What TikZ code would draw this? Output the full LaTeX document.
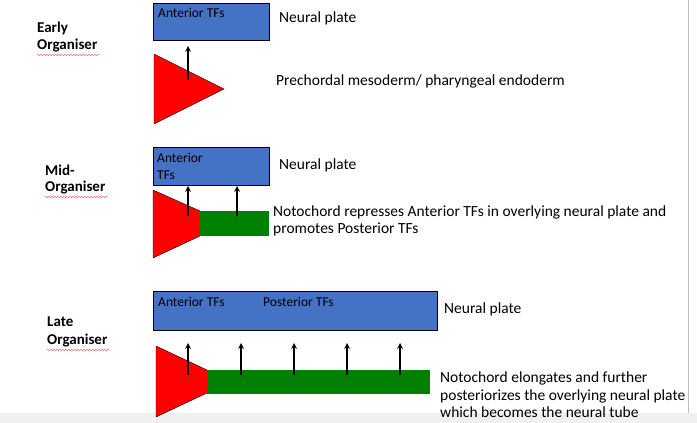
\documentclass[tikz,border=0pt]{standalone}
\usepackage{fontspec}
\setmainfont{Carlito}
\usetikzlibrary{decorations.pathmorphing}
\begin{document}
\begin{tikzpicture}[x=1pt,y=-1pt,
  lbl/.style={anchor=west,font=\fontsize{15.5}{18}\selectfont,inner sep=0pt},
  small/.style={anchor=west,font=\fontsize{13.5}{16}\selectfont,inner sep=0pt},
  stage/.style={anchor=west,font=\bfseries\fontsize{15}{18}\selectfont,inner sep=0pt,align=left},
  up/.style={->,>=stealth,line width=1.6pt},
  squiggle/.style={red!70,line width=0.4pt,decorate,decoration={snake,amplitude=0.7pt,segment length=3pt}}]
\definecolor{plateblue}{RGB}{68,114,196}
\definecolor{chordgreen}{RGB}{0,128,0}
\useasboundingbox (0,0) rectangle (697,423);
\fill[gray!12] (0,413) rectangle (697,423);
\draw[gray!50] (688,0) -- (688,413);

% Early organiser
\node[stage] (early) at (37,28) {Early};
\node[stage] (earlyb) at (37,46) {Organiser};
\draw[squiggle] (37,55) -- (100,55);
\draw[fill=plateblue] (153,3) rectangle (269,40);
\node[small] (antA) at (158,13) {Anterior TFs};
\node[lbl] (npA) at (279,18) {Neural plate};
\draw[fill=red] (154,54) -- (154,124) -- (224,89) -- cycle;
\coordinate (a1) at (188,80);
\coordinate (a2) at (188,46);
\draw[up] (a1) -- (a2);
\node[lbl] (preA) at (276,81) {Prechordal mesoderm/ pharyngeal endoderm};

% Mid organiser
\node[stage] (mid) at (45,170) {Mid-};
\node[stage] (midb) at (45,188) {Organiser};
\draw[squiggle] (45,197) -- (108,197);
\draw[fill=plateblue] (153,147) rectangle (269,185);
\node[small] (antB) at (157,158) {Anterior};
\node[small] (antC) at (157,175) {TFs};
\node[lbl] (npB) at (279,165) {Neural plate};
\fill[red] (153,190) -- (200,211) -- (200,236) -- (153,258) -- cycle;
\draw (200,211) -- (153,190) -- (153,258) -- (200,236);
\fill[chordgreen] (200,211) rectangle (269,236);
\foreach \x [count=\i] in {188,237}{
  \coordinate (b\i) at (\x,216);
  \coordinate (c\i) at (\x,186);
  \draw[up] (b\i) -- (c\i);
}
\node[lbl] (notoB) at (273,212) {Notochord represses Anterior TFs in overlying neural plate and};
\node[lbl] (notoC) at (273,229) {promotes Posterior TFs};

% Late organiser
\node[stage] (late) at (47,322) {Late};
\node[stage] (lateb) at (47,341) {Organiser};
\draw[squiggle] (47,350) -- (110,350);
\draw[fill=plateblue] (153,291) rectangle (437,330);
\node[small] (antD) at (158,302) {Anterior TFs};
\node[small] (postD) at (263,302) {Posterior TFs};
\node[lbl] (npD) at (444,309) {Neural plate};
\fill[red] (156,346) -- (207,370) -- (207,393) -- (156,417) -- cycle;
\draw (207,370) -- (156,346) -- (156,417) -- (207,393);
\fill[chordgreen] (207,370) rectangle (430,394);
\foreach \x [count=\i] in {188,241,294,347,400}{
  \coordinate (d\i) at (\x,375);
  \coordinate (e\i) at (\x,343);
  \draw[up] (d\i) -- (e\i);
}
\node[lbl] (notoD) at (440,378) {Notochord elongates and further};
\node[lbl] (notoE) at (440,396) {posteriorizes the overlying neural plate};
\node[lbl] (notoF) at (440,412) {which becomes the neural tube};
\end{tikzpicture}
\end{document}
